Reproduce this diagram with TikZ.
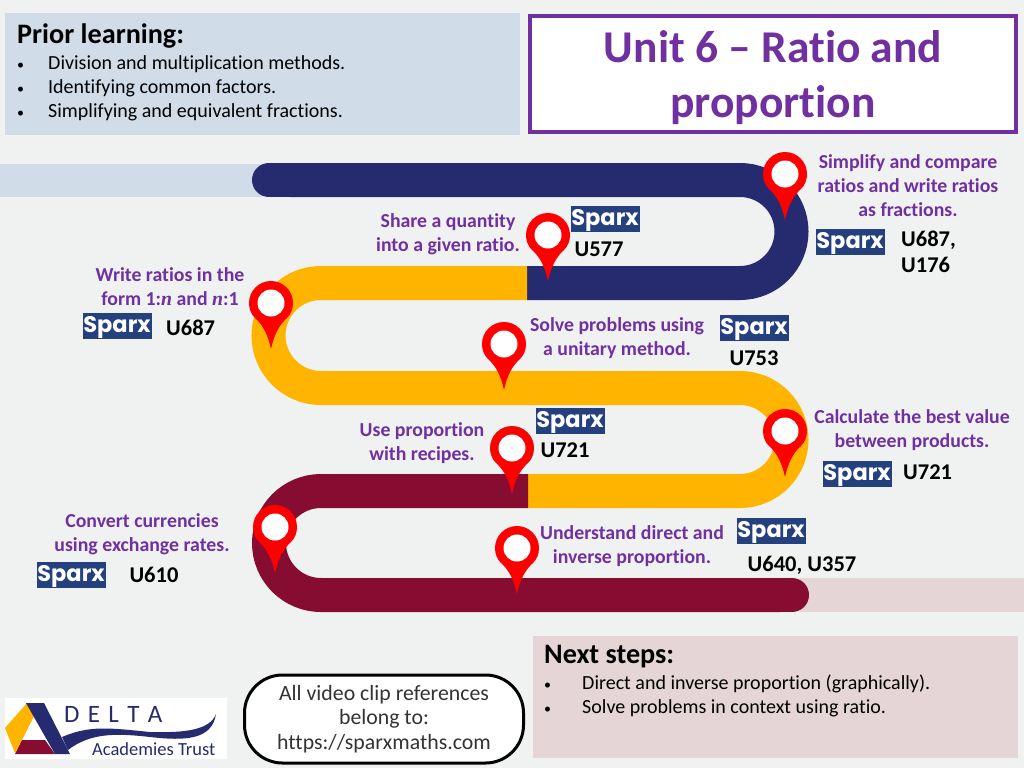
\documentclass[tikz,border=0pt]{standalone}
\usepackage{fontspec}
\setmainfont{Carlito}[Ligatures=NoCommon]
\newfontfamily\sparxfont{Poppins}
\newfontfamily\serifbold{Liberation Serif}
\usepackage{xcolor}
\definecolor{pagegrey}{HTML}{F0F2F2}
\definecolor{priorblue}{HTML}{D0DDE9}
\definecolor{nextpink}{HTML}{E5D5D7}
\definecolor{roadnavy}{HTML}{262A6E}
\definecolor{roadyellow}{HTML}{FFB500}
\definecolor{roadmaroon}{HTML}{870C31}
\definecolor{unitpurple}{HTML}{7030A0}
\definecolor{sparxblue}{HTML}{24407F}
\tikzset{
    road/.style={line width=34pt, line cap=butt},
    head/.style={anchor=west, font=\fontsize{28.2}{30}\selectfont\bfseries, inner sep=0pt},
    item/.style={anchor=west, text height=14pt, text depth=4pt, font=\fontsize{20}{24}\selectfont, inner sep=0pt},
    dot/.style={anchor=west, text height=14pt, text depth=4pt, font=\fontsize{14}{24}\selectfont, inner sep=0pt},
    topic/.style={align=center, text=unitpurple, font=\fontsize{19.8}{24}\selectfont\bfseries, inner sep=0pt},
    code/.style={align=left, font=\fontsize{22.5}{26.5}\selectfont\bfseries, inner sep=0pt},
    sparx/.style={fill=sparxblue, text=white, minimum width=69pt, minimum height=26pt, inner sep=0pt, text height=18pt, text depth=6pt, font=\fontsize{22.5}{24}\selectfont\sparxfont\bfseries},
}
\begin{document}
\begin{tikzpicture}[x=1pt, y=-1pt]
    \useasboundingbox (0,0) rectangle (1024,768);
    \fill[pagegrey] (0,0) rectangle (1024,768);
    % top panels
    \fill[priorblue] (5,13) rectangle (520,135);
    \draw[unitpurple, line width=4pt, fill=white] (530,16) rectangle (1016,132);
    \node[head] (priorhead) at (17,36) {Prior learning:};
    \foreach \y/\name/\txt in {64/a/Division and multiplication methods., 88/b/Identifying common factors., 112/c/Simplifying and equivalent fractions.} {
        \node[dot] (bullet\name) at (17,\y) {•};
        \node[item] (prior\name) at (48,\y) {\txt};
    }
    \node[align=center, text=unitpurple, font=\fontsize{45.5}{55}\selectfont\bfseries] (title) at (773,78) {Unit 6 -- Ratio and\\proportion};
    % the road
    \fill[priorblue] (0,164) rectangle (262,197);
    \fill[nextpink] (800,578) rectangle (1024,612);
    \draw[road, roadnavy, line cap=round] (269,180) -- (300,180);
    \draw[road, roadnavy] (290,180) -- (740,180) arc[start angle=-90, end angle=90, radius=51.5] -- (527,283);
    \draw[road, roadyellow] (527,283) -- (321,283) arc[start angle=270, end angle=90, radius=52.5] -- (740,388) arc[start angle=-90, end angle=90, radius=51.5] -- (528,491);
    \draw[road, roadmaroon] (528,491) -- (321,491) arc[start angle=270, end angle=90, radius=52] -- (780,595);
    \draw[road, roadmaroon, line cap=round] (770,595) -- (792,595);
    % pins
    \foreach \x/\y in {785/220, 548/281, 271/349, 504/390, 785/477, 512/494, 275/573, 517/594} {
        \fill[red] (\x,\y) .. controls (\x-3,\y-14) and (\x-8,\y-24) .. (\x-16,\y-31)
            .. controls (\x-20,\y-35) and (\x-22,\y-40) .. (\x-22,\y-46)
            arc[start angle=180, end angle=360, radius=22]
            .. controls (\x+22,\y-40) and (\x+20,\y-35) .. (\x+16,\y-31)
            .. controls (\x+8,\y-24) and (\x+3,\y-14) .. (\x,\y) -- cycle;
        \fill[white] (\x,\y-46) circle[radius=13.5];
    }
    % topics
    \node[topic] (simplify) at (908,185.5) {Simplify and compare\\ratios and write ratios\\as fractions.};
    \node[topic] (share) at (448,234.5) {Share a quantity\\into a given ratio.};
    \node[topic] (write) at (170,287) {Write ratios in the\\form 1:{\serifbold\itshape n} and {\serifbold\itshape n}:1};
    \node[topic] (solve) at (617,338.5) {Solve problems using\\a unitary method.};
    \node[topic] (recipes) at (422,443) {Use proportion\\with recipes.};
    \node[topic] (best) at (912,430.5) {Calculate the best value\\between products.};
    \node[topic] (convert) at (142,534.5) {Convert currencies\\using exchange rates.};
    \node[topic] (direct) at (632,546) {Understand direct and\\inverse proportion.};
    % sparx badges
    \foreach \x/\y/\name in {605/219/a, 850/242/b, 117/326/c, 754/328/d, 570/421/e, 857/474/f, 771/531/g, 71/575/h} {
        \node[sparx] (sparx\name) at (\x,\y) {Sparx};
    }
    \node[code, anchor=center] (codea) at (599,249) {U577};
    \node[code, anchor=west] (codeb) at (901,252) {U687,\\U176};
    \node[code, anchor=west] (codec) at (166,328) {U687};
    \node[code, anchor=center] (coded) at (754,358) {U753};
    \node[code, anchor=center] (codee) at (565,450) {U721};
    \node[code, anchor=west] (codef) at (903,472) {U721};
    \node[code, anchor=center] (codeg) at (802,565) {U640, U357};
    \node[code, anchor=center] (codeh) at (154,575) {U610};
    % next steps
    \fill[nextpink] (533,636) rectangle (1018,758);
    \node[head] (nexthead) at (544,657) {Next steps:};
    \foreach \y/\name/\txt in {684/a/Direct and inverse proportion (graphically)., 708/b/Solve problems in context using ratio.} {
        \node[dot] (nextbullet\name) at (544,\y) {•};
        \node[item] (next\name) at (582,\y) {\txt};
    }
    % video note
    \node[draw, line width=3pt, fill=white, rounded corners=38pt, minimum width=279pt, minimum height=88pt, align=center, inner sep=0pt, text=black!80, font=\fontsize{21.8}{24.5}\selectfont] (video) at (384,719) {All video clip references\\belong to:\\https://sparxmaths.com};
    % logo
    \fill[white] (5,698) rectangle (227,759);
    \fill[roadyellow] (27,703) -- (5,728) -- (15,753) -- (22,740) -- (34,716) -- cycle;
    \fill[roadmaroon] (15,754) -- (55,754) -- (45,740) -- (22,740) -- cycle;
    \fill[roadnavy] (26,703) -- (44,703) -- (70,754) -- (55,754) -- cycle;
    \fill[roadnavy] (62,737) .. controls (90,725) and (110,728) .. (150,732) .. controls (185,733) and (210,730) .. (216,714) .. controls (212,740) and (185,741) .. (150,737) .. controls (115,733) and (90,733) .. (68,750) -- cycle;
    \node[anchor=west, inner sep=0pt, text=roadnavy, font=\fontsize{25}{26}\selectfont] (delta) at (64,714) {D\,\,E\,\,L\,\,T\,\,A};
    \node[anchor=west, inner sep=0pt, text=roadnavy, font=\fontsize{18.5}{20}\selectfont] (trust) at (92,749) {Academies Trust};
\end{tikzpicture}
\end{document}
